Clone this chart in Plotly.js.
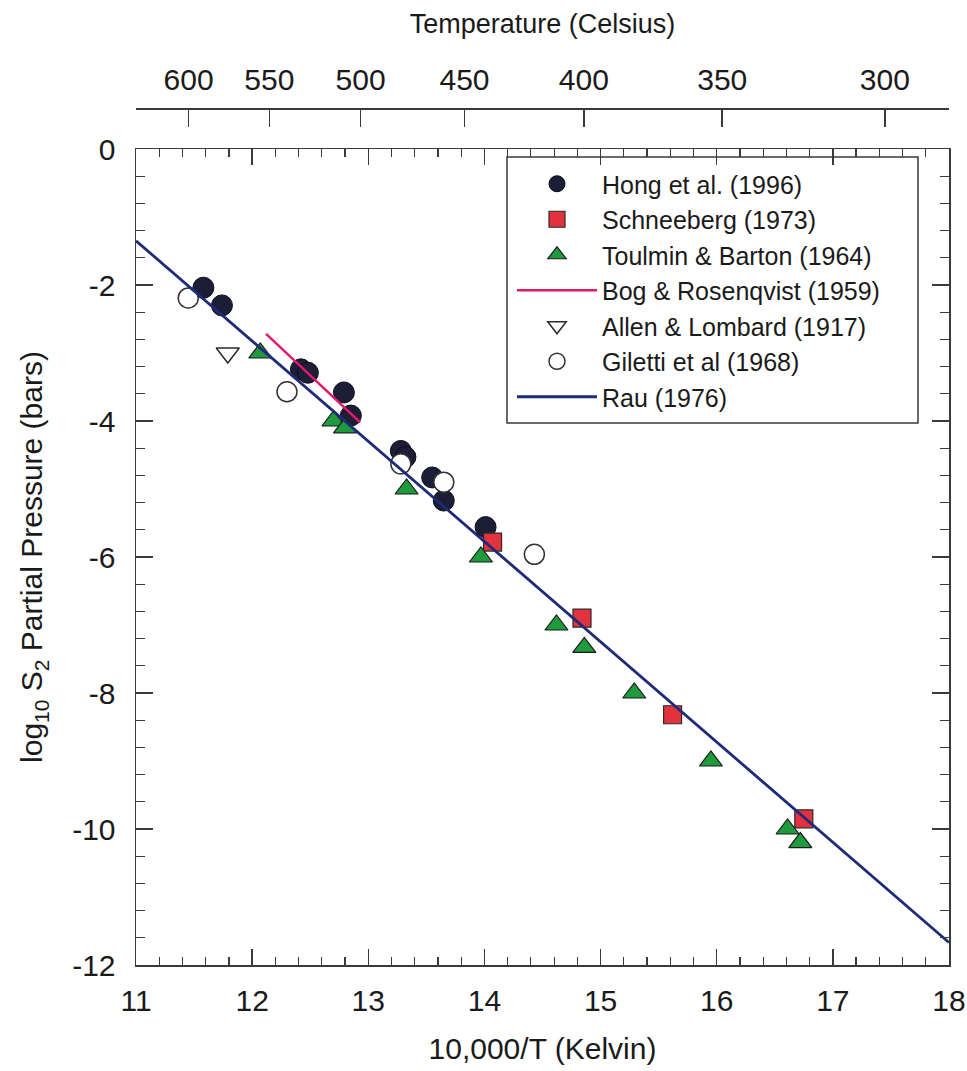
<!DOCTYPE html>
<html><head><meta charset="utf-8">
<script src="https://cdn.plot.ly/plotly-3.0.1.min.js"></script>
<style>body{margin:0;background:#fff}#plot{width:967px;height:1071px}</style>
</head><body><div id="plot"></div>
<script>
// Data (x = 10,000/T in Kelvin, y = log10 S2 pressure in bars)
const hongX = [11.58, 11.74, 12.42, 12.48, 12.79, 12.85, 13.28, 13.32, 13.55, 13.65, 14.01];
const hongY = [-2.04, -2.30, -3.24, -3.29, -3.58, -3.92, -4.44, -4.53, -4.83, -5.17, -5.56];
const schX = [14.07, 14.84, 15.62, 16.75];
const schY = [-5.78, -6.90, -8.32, -9.85];
const toulX = [12.07, 12.70, 12.80, 13.33, 13.97, 14.62, 14.86, 15.29, 15.95, 16.61, 16.72];
const toulY = [-3.0, -4.0, -4.1, -5.0, -6.0, -7.0, -7.33, -8.0, -9.0, -10.0, -10.2];
const bogX = [12.12, 12.93];
const bogY = [-2.72, -4.02];
const allenX = [11.79];
const allenY = [-3.0];
const gilX = [11.45, 12.30, 13.28, 13.65, 14.43];
const gilY = [-2.19, -3.57, -4.63, -4.90, -5.96];
const rauX = [11, 18];
const rauY = [-1.35, -11.67];
const celsiusTicks = [600, 550, 500, 450, 400, 350, 300];
const yTicks = [0, -2, -4, -6, -8, -10, -12];
const xTicks = [11, 12, 13, 14, 15, 16, 17, 18];

const celsiusPos = celsiusTicks.map(t => 10000 / (t + 273.15));
const FONT = 'Liberation Sans, Arial, Helvetica, sans-serif';
const TXT = '#1a1a1a';
const AX = '#3a3a3a';

const traces = [
  {name: 'Hong et al. (1996)', x: hongX, y: hongY, mode: 'markers', legendrank: 1, legendgroup: 'a',
   marker: {symbol: 'circle', size: 21, color: '#1b1e36', line: {color: '#0d0d14', width: 1}}},
  {name: 'Schneeberg (1973)', x: schX, y: schY, mode: 'markers', legendrank: 2, legendgroup: 'b',
   marker: {symbol: 'square', size: 18, color: '#e2323e', line: {color: '#2a2a2a', width: 1.2}}},
  {name: 'Toulmin & Barton (1964)', x: toulX, y: toulY, mode: 'markers', legendrank: 3, legendgroup: 'c',
   marker: {symbol: 'triangle-up', size: 20, color: '#1f9a3d', line: {color: '#1a1a1a', width: 1.2}}},
  {name: 'Allen & Lombard (1917)', x: allenX, y: allenY, mode: 'markers', legendrank: 5, legendgroup: 'e',
   marker: {symbol: 'triangle-down', size: 20, color: '#ffffff', line: {color: '#2a2a2a', width: 1.5}}},
  {name: 'Giletti et al (1968)', x: gilX, y: gilY, mode: 'markers', legendrank: 6, legendgroup: 'f',
   marker: {symbol: 'circle', size: 20, color: '#ffffff', line: {color: '#333333', width: 1.5}}},
  {name: 'Bog & Rosenqvist (1959)', x: bogX, y: bogY, mode: 'lines', legendrank: 4, legendgroup: 'd',
   line: {color: '#e3196c', width: 2.5}},
  {name: 'Rau (1976)', x: rauX, y: rauY, mode: 'lines', legendrank: 7, legendgroup: 'g',
   line: {color: '#1f2a78', width: 2.8}},
  {x: celsiusPos, y: celsiusPos.map(() => null), xaxis: 'x2', mode: 'markers', showlegend: false, hoverinfo: 'skip'}
];

const W = 967, H = 1071;
const L = 136, R = 18, T = 108, B = 106;
const plotH = H - T - B;
const yTop = (965 - 149) / plotH;
const px = v => (v - L) / (W - L - R);
const py = v => (965 - v) / plotH;

const layout = {
  width: W, height: H,
  margin: {l: L, r: R, t: T, b: B},
  paper_bgcolor: '#ffffff', plot_bgcolor: '#ffffff',
  font: {family: FONT, color: TXT, size: 26},
  showlegend: true,
  legend: {x: px(512), y: py(161), xanchor: 'left', yanchor: 'top',
    bgcolor: 'rgba(0,0,0,0)', borderwidth: 0, itemwidth: 80, tracegroupgap: 0,
    font: {family: FONT, size: 25, color: TXT}, traceorder: 'normal'},
  xaxis: {range: [11, 18], tickvals: xTicks, ticktext: xTicks.map(String),
    ticks: 'inside', ticklen: 16, tickwidth: 1.5, tickcolor: AX,
    showline: true, linecolor: AX, linewidth: 1.5, mirror: 'ticks',
    showgrid: false, zeroline: false, ticklabelstandoff: 8,
    minor: {dtick: 0.2, ticks: 'inside', ticklen: 8, tickwidth: 1.2, tickcolor: AX, showgrid: false},
    tickfont: {size: 30, family: FONT, color: TXT},
    title: {text: '10,000/T (Kelvin)', font: {size: 30, family: FONT, color: TXT}, standoff: 22}},
  xaxis2: {range: [11, 18], overlaying: 'x', anchor: 'free', position: 1, side: 'top',
    tickvals: celsiusPos, ticktext: celsiusTicks.map(String),
    ticks: 'inside', ticklen: 17, tickwidth: 1.5, tickcolor: AX,
    showline: true, linecolor: AX, linewidth: 1.5, showgrid: false, zeroline: false,
    ticklabelstandoff: 6,
    tickfont: {size: 30, family: FONT, color: TXT},
    title: {text: 'Temperature (Celsius)', font: {size: 27, family: FONT, color: TXT}, standoff: 20}},
  yaxis: {range: [-12, 0], domain: [0, yTop], tickvals: yTicks, ticktext: yTicks.map(v => v === 0 ? '0' : '-' + Math.abs(v)),
    ticks: 'inside', ticklen: 17, tickwidth: 1.5, tickcolor: AX,
    showline: true, linecolor: AX, linewidth: 1.5, mirror: 'ticks',
    showgrid: false, zeroline: false, ticklabelstandoff: 13,
    minor: {dtick: 0.4, ticks: 'inside', ticklen: 9, tickwidth: 1.2, tickcolor: AX, showgrid: false},
    tickfont: {size: 30, family: FONT, color: TXT},
    title: {text: 'log<sub>10</sub> S<sub>2</sub> Partial Pressure (bars)', font: {size: 30, family: FONT, color: TXT}, standoff: 20}},
  shapes: [{type: 'rect', xref: 'paper', yref: 'paper', x0: px(507), x1: px(918), y0: py(423), y1: py(157),
    line: {color: AX, width: 1.5}, fillcolor: 'rgba(0,0,0,0)', layer: 'above'}]
};

Plotly.newPlot('plot', traces, layout, {displayModeBar: false, staticPlot: true});
</script>
</body></html>
